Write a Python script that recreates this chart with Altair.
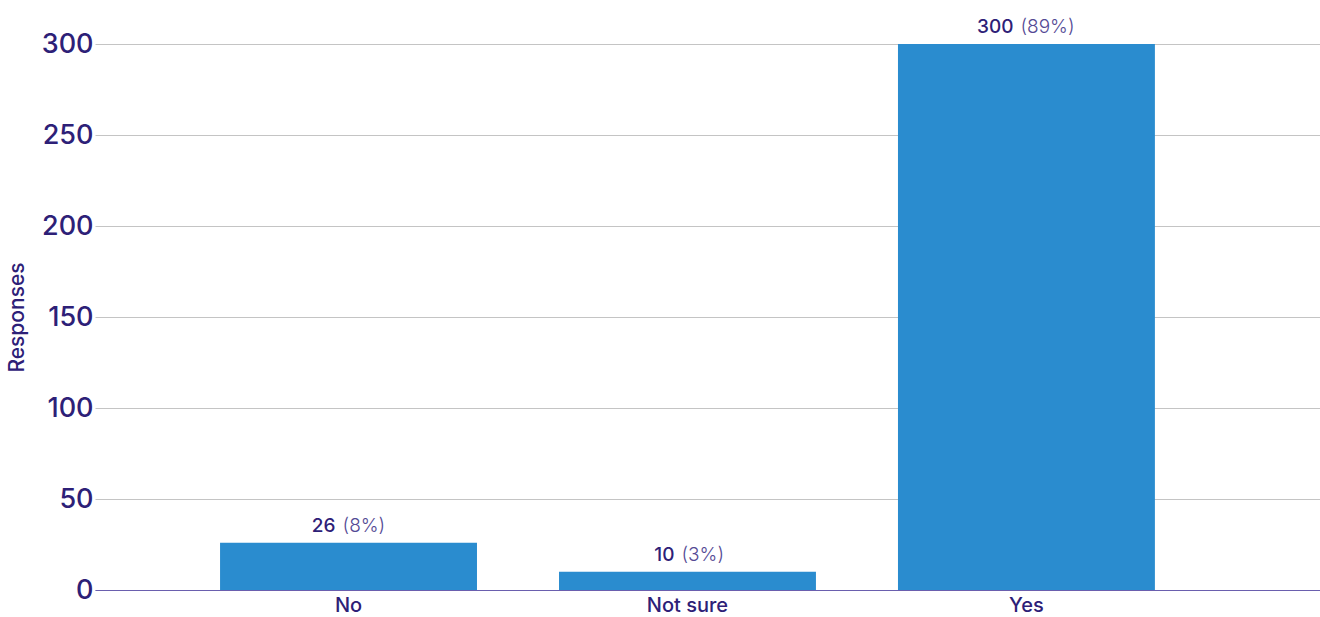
import altair as alt
import pandas as pd

# Survey answers and their counts / shares
answers = ["No", "Not sure", "Yes"]
counts = [26, 10, 300]
shares = ["(8%)", "(3%)", "(89%)"]

df = pd.DataFrame({"answer": answers, "count": counts, "share": shares})

INK = "#2d2077"
FONT = "Inter"

x = alt.X(
    "answer:N",
    title=None,
    sort=answers,
    scale=alt.Scale(paddingInner=0.242, paddingOuter=0.428, align=0.431),
    axis=alt.Axis(
        labelAngle=0,
        labelFontSize=20,
        labelFontWeight=500,
        labelColor=INK,
        labelFont=FONT,
        labelPadding=5,
        ticks=False,
        domainColor="#6a5fae",
        domainWidth=1.2,
    ),
)
y = alt.Y(
    "count:Q",
    title="Responses",
    scale=alt.Scale(domain=[0, 300], nice=False),
    axis=alt.Axis(
        values=[0, 50, 100, 150, 200, 250, 300],
        labelFontSize=27,
        labelFontWeight=500,
        labelColor=INK,
        labelFont=FONT,
        labelPadding=2,
        ticks=False,
        domain=False,
        gridColor="#c4c4c4",
        gridWidth=1,
        titleFontSize=21,
        titleColor=INK,
        titleFont=FONT,
        titleFontWeight=500,
        titlePadding=14,
    ),
)

bars = alt.Chart(df).mark_bar(color="#2a8ccf").encode(x=x, y=y)

num_text = alt.Chart(df).mark_text(
    align="right", baseline="bottom", dx=-13, dy=-7,
    fontSize=19, font=FONT, fontWeight=500, color=INK,
).encode(x=x, y=y, text="count:Q")

pct_text = alt.Chart(df).mark_text(
    align="left", baseline="bottom", dx=-6, dy=-7,
    fontSize=19, font=FONT, fontWeight=300, color="#544a95",
).encode(x=x, y=y, text="share:N")

chart = (
    alt.layer(bars, num_text, pct_text)
    .properties(
        width=1225,
        height=546,
        autosize=alt.AutoSizeParams(type="none"),
        padding={"left": 95, "top": 44, "right": 0, "bottom": 27},
    )
    .configure_view(stroke=None)
)

chart.save("out.html", embed_options={"renderer": "svg", "actions": False})
